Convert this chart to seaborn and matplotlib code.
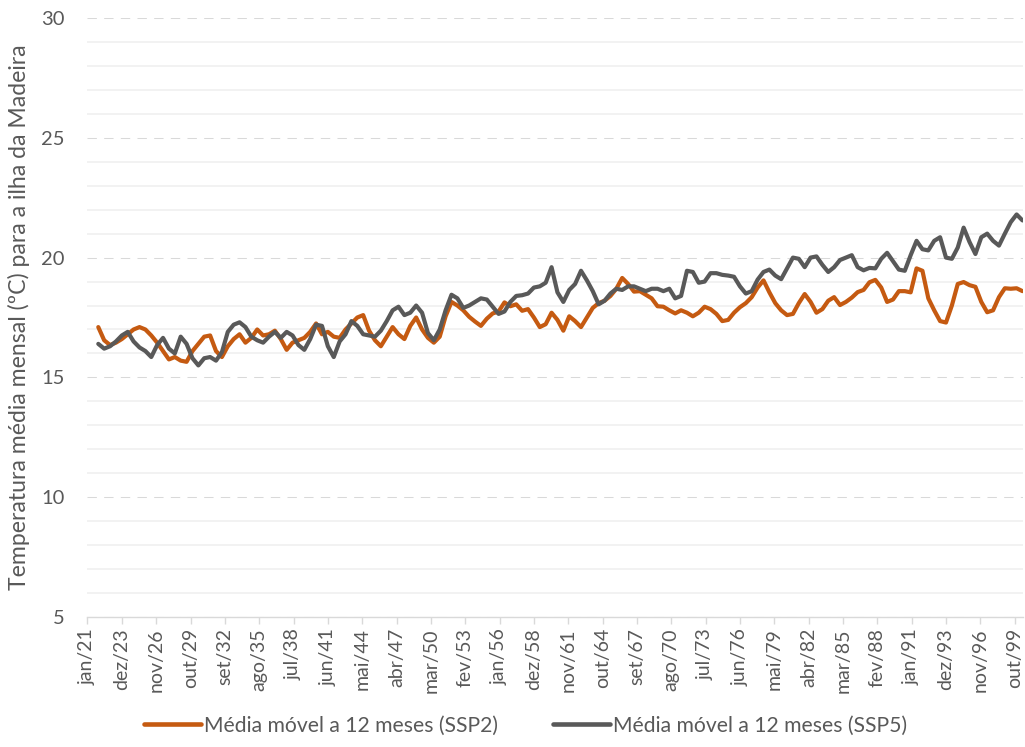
import numpy as np
import pandas as pd
import matplotlib
matplotlib.use("Agg")
import matplotlib.pyplot as plt
from matplotlib.lines import Line2D
from matplotlib.ticker import MultipleLocator
import seaborn as sns

# Month index counted from jan/2021, one value every 6 months
months = np.arange(11, 954, 6)

# 12-month moving average of monthly mean temperature (ºC), scenario SSP2
ssp2 = [
    17.1, 16.55, 16.35, 16.45, 16.6, 16.8, 17.0, 17.1, 17.0, 16.75,
    16.45, 16.1, 15.75, 15.85, 15.7, 15.65, 16.1, 16.4, 16.7, 16.75,
    16.1, 15.85, 16.3, 16.6, 16.8, 16.45, 16.65, 17.0, 16.75, 16.8,
    16.95, 16.6, 16.15, 16.45, 16.55, 16.65, 16.9, 17.25, 16.8, 16.9,
    16.7, 16.65, 17.0, 17.25, 17.5, 17.6, 16.95, 16.55, 16.3, 16.7,
    17.1, 16.8, 16.6,
    17.15, 17.5, 17.0, 16.65, 16.45, 16.7, 17.55, 18.15, 18.0, 17.8,
    17.53, 17.33, 17.15, 17.45, 17.67, 17.75, 18.13, 17.97, 18.05, 17.78,
    17.85, 17.5, 17.1, 17.22, 17.7, 17.4, 16.95, 17.55, 17.35, 17.1,
    17.5, 17.9, 18.1, 18.2, 18.4, 18.7, 19.15, 18.9, 18.58, 18.6,
    18.45, 18.3, 17.97, 17.95, 17.8, 17.67, 17.8, 17.7, 17.55, 17.7,
    17.95, 17.85, 17.65,
    17.35, 17.4, 17.7, 17.93, 18.1, 18.35, 18.75, 19.05, 18.55, 18.1,
    17.8, 17.6, 17.65, 18.1, 18.48, 18.15, 17.7, 17.85, 18.2, 18.35,
    18.02, 18.15, 18.33, 18.56, 18.65, 18.97, 19.07, 18.75, 18.15, 18.25,
    18.6, 18.6, 18.55, 19.55, 19.45, 18.3, 17.8, 17.35, 17.29, 18.0,
    18.9, 18.98, 18.85, 18.78, 18.15, 17.72, 17.8, 18.35, 18.72, 18.7,
    18.72, 18.6,
]

# 12-month moving average of monthly mean temperature (ºC), scenario SSP5
ssp5 = [
    16.4, 16.2, 16.3, 16.5, 16.75, 16.9, 16.5, 16.25, 16.1, 15.85,
    16.35, 16.65, 16.2, 16.0, 16.7, 16.4, 15.8, 15.5, 15.8, 15.85,
    15.7, 16.05, 16.9, 17.2, 17.3, 17.1, 16.7, 16.55, 16.45, 16.7,
    16.9, 16.65, 16.9, 16.75, 16.35, 16.15, 16.6, 17.2, 17.15, 16.3,
    15.85, 16.5, 16.8, 17.35, 17.15, 16.8, 16.75, 16.7, 16.95, 17.35,
    17.8, 17.95, 17.6,
    17.7, 18.0, 17.7, 16.85, 16.55, 17.0, 17.8, 18.45, 18.3, 17.9,
    18.0, 18.15, 18.3, 18.25, 17.95, 17.65, 17.75, 18.15, 18.4, 18.43,
    18.5, 18.75, 18.8, 18.95, 19.6, 18.55, 18.15, 18.65, 18.9, 19.45,
    19.05, 18.6, 18.05, 18.2, 18.5, 18.7, 18.65, 18.8, 18.8, 18.7,
    18.6, 18.7, 18.7, 18.6, 18.7, 18.3, 18.4, 19.45, 19.4, 18.95,
    19.0, 19.35, 19.35,
    19.28, 19.25, 19.2, 18.8, 18.5, 18.6, 19.08, 19.4, 19.5, 19.25,
    19.1, 19.55, 20.0, 19.95, 19.6, 20.0, 20.05, 19.7, 19.4, 19.6,
    19.9, 20.0, 20.1, 19.6, 19.47, 19.57, 19.55, 19.95, 20.2, 19.85,
    19.5, 19.45, 20.1, 20.7, 20.35, 20.3, 20.7, 20.85, 20.0, 19.95,
    20.42, 21.25, 20.65, 20.15, 20.85, 21.0, 20.7, 20.5, 21.0, 21.48,
    21.8, 21.55,
]

series_names = ["Média móvel a 12 meses (SSP2)", "Média móvel a 12 meses (SSP5)"]
series_colors = ["#C55A11", "#595959"]

tick_labels = [
    "jan/21", "dez/23", "nov/26", "out/29", "set/32", "ago/35", "jul/38",
    "jun/41", "mai/44", "abr/47", "mar/50", "fev/53", "jan/56", "dez/58",
    "nov/61", "out/64", "set/67", "ago/70", "jul/73", "jun/76", "mai/79",
    "abr/82", "mar/85", "fev/88", "jan/91", "dez/93", "nov/96", "out/99",
]
label_step = 35
n_months = 954

y_label = "Temperatura média mensal (ºC) para a ilha da Madeira"

df = pd.concat([
    pd.DataFrame({"mes": months, "temp": ssp2, "serie": series_names[0]}),
    pd.DataFrame({"mes": months, "temp": ssp5, "serie": series_names[1]}),
])

sns.set_theme(style="white")
plt.rcParams["font.family"] = ["Lato", "DejaVu Sans"]

text_color = "#595959"
fig = plt.figure(figsize=(10.25, 7.47), dpi=100)
ax = fig.add_axes([87 / 1025, 1 - 617 / 747, (1023 - 87) / 1025, (617 - 18) / 747])
ax.set_axisbelow(True)

sns.lineplot(data=df, x="mes", y="temp", hue="serie", hue_order=series_names,
             palette=series_colors, linewidth=3.0, ax=ax, legend=False,
             solid_capstyle="round", solid_joinstyle="round")

ax.set_xlim(-0.5, n_months - 0.5)
ax.set_ylim(5, 30)
ax.set_xticks(np.arange(0, len(tick_labels) * label_step, label_step))
ax.set_xticklabels(tick_labels, rotation=90)
ax.set_yticks([5, 10, 15, 20, 25, 30])
ax.yaxis.set_minor_locator(MultipleLocator(1))

ax.grid(which="major", axis="y", color="#D9D9D9", linestyle=(0, (9, 7)), linewidth=0.75)
ax.grid(which="minor", axis="y", color="#EFEFEF", linewidth=1.1)
ax.grid(which="major", axis="x", visible=False)

for side in ["top", "right", "left"]:
    ax.spines[side].set_visible(False)
ax.spines["bottom"].set_color("#D9D9D9")
ax.spines["bottom"].set_linewidth(1.0)

ax.tick_params(axis="x", which="major", bottom=True, length=5, width=1.0,
               color="#D9D9D9", labelsize=14, labelcolor=text_color, pad=3)
ax.tick_params(axis="y", which="both", left=False, length=0,
               labelsize=14.5, labelcolor=text_color, pad=16)

ax.set_xlabel("")
ax.set_ylabel(y_label, fontsize=16.6, color=text_color, labelpad=8)

handles = [Line2D([0], [0], color=c, linewidth=3.3) for c in series_colors]
fig.legend(handles, series_names, loc="lower center", bbox_to_anchor=(0.513, -0.01),
           ncol=2, frameon=False, fontsize=15.2, labelcolor=text_color,
           handlelength=2.7, handletextpad=0.15, columnspacing=2.6)

fig.savefig("out.png", dpi=100, facecolor="white")
